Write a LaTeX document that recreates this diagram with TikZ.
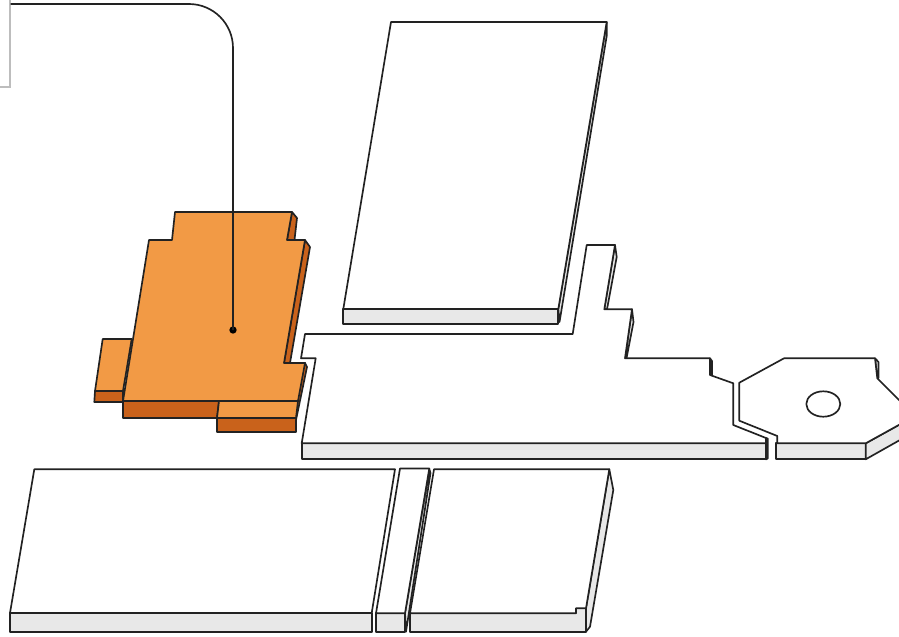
\documentclass[tikz,border=0pt]{standalone}
\usepackage{tikz}
\definecolor{plategray}{HTML}{E8E8E8}
\definecolor{padorange}{HTML}{F29A45}
\definecolor{paddark}{HTML}{C9621B}
\definecolor{edgeblack}{HTML}{222222}
\definecolor{calloutgray}{HTML}{BDBDBD}

\begin{document}
\begin{tikzpicture}[
    x=0.75pt, y=-0.75pt,
    plate/.style={draw=edgeblack, line width=1.25pt, line join=round, fill=white},
    rim/.style={plate, fill=plategray},
    pad/.style={plate, fill=padorange},
    padside/.style={plate, fill=paddark},
    callout/.style={draw=calloutgray, line width=1.0pt, fill=white, minimum width=140pt, minimum height=124.5pt},
    leader/.style={draw=edgeblack, line width=1.25pt, rounded corners=33pt},
    anchordot/.style={circle, fill=black, inner sep=0pt, minimum size=5.5pt}
  ]
    \useasboundingbox (0,0) rectangle (899,636);
    \clip (0,0) rectangle (899,636);

    % upper plate
    \draw[rim]   (606.7,22) -- (606.7,36) -- (559.5,322) -- (558.3,309) -- cycle;
    \draw[rim]   (343.3,309) -- (558.3,309) -- (558.3,324) -- (343.3,324) -- cycle;
    \draw[plate] (391,22) -- (606.7,22) -- (558.3,309) -- (343.3,309) -- cycle;

    % long plate
    \draw[rim]   (615,245) -- (616.7,257) -- (607,309.3) -- (604.3,309.3) -- cycle;
    \draw[rim]   (632,309.3) -- (633.5,322) -- (626.5,358.3) -- (625,358.3) -- cycle;
    \draw[rim]   (710,358.3) -- (712,361) -- (712,375) -- (710,375) -- cycle;
    \draw[rim]   (766,438) -- (767.7,438.5) -- (767.7,458.5) -- (766,459.3) -- cycle;
    \draw[rim]   (301.7,443.3) -- (766,443.3) -- (766,459.3) -- (301.7,459.3) -- cycle;
    \draw[plate] (305,334) -- (572.7,334) -- (586.7,245) -- (615,245) -- (604.3,309.3)
      -- (632,309.3) -- (625,358.3) -- (710,358.3) -- (710,375) -- (733.3,383.3)
      -- (733.3,425) -- (766,438) -- (766,443.3) -- (301.7,443.3) -- (315.7,358.3)
      -- (301,358.3) -- cycle;

    % end plate
    \draw[rim]   (875,358.3) -- (878.5,362) -- (878.5,378) -- (877.3,378.3) -- cycle;
    \draw[rim]   (776,443.3) -- (865.7,443.3) -- (865.7,459.3) -- (776,459.3) -- cycle;
    \draw[rim]   (865.7,443.3) -- (915,416) -- (915,431.5) -- (865.7,459.3) -- cycle;
    \draw[plate] (739.3,382.7) -- (784,358.3) -- (875,358.3) -- (877.3,378.3) -- (915,416)
      -- (865.7,443.3) -- (777.3,443.3) -- (777.3,436) -- (739.3,420.7) -- cycle;
    \draw[plate] (823.3,404) ellipse [x radius=17, y radius=12.7];

    % lower plates
    \draw[rim]   (10,613) -- (371.7,613) -- (371.7,631.7) -- (10,631.7) -- cycle;
    \draw[plate] (34.3,469.3) -- (395,469.3) -- (371.7,613) -- (10,613) -- cycle;

    \draw[rim]   (429.3,469) -- (430.5,473) -- (406,631.7) -- (405,613.3) -- cycle;
    \draw[rim]   (376,613.3) -- (405,613.3) -- (405,631.7) -- (376,631.7) -- cycle;
    \draw[plate] (400,468.5) -- (429.3,468.5) -- (405,613.3) -- (376,613.3) -- cycle;

    \draw[rim]   (609.3,469.3) -- (613.3,490) -- (590,626.7) -- (586,631.7) -- (586,608.3) -- cycle;
    \draw[rim]   (410,613.3) -- (576,613.3) -- (576,608.3) -- (586,608.3) -- (586,631.7) -- (410,631.7) -- cycle;
    \draw[plate] (434,469.3) -- (609.3,469.3) -- (586,608.3) -- (576,608.3) -- (576,613.3) -- (410,613.3) -- cycle;

    % orange part
    \draw[padside] (292,212) -- (297,218) -- (294.5,240) -- (287,240) -- cycle;
    \draw[padside] (305,240) -- (310,247) -- (290,363) -- (284,363) -- cycle;
    \draw[padside] (95,391) -- (123,391) -- (123,402) -- (94.3,402) -- cycle;
    \draw[pad]     (102.7,339) -- (131.7,339) -- (123,391) -- (95,391) -- cycle;
    \draw[padside] (305,363) -- (307,367) -- (296,420) -- (296,432) -- (217,432) -- (217,418) -- cycle;
    \draw[padside] (123,401) -- (219,401) -- (217,418) -- (123,418) -- cycle;
    \draw[pad]     (219,401) -- (298,401) -- (296,418) -- (217,418) -- cycle;
    \draw[pad]     (175,212) -- (292,212) -- (287,240) -- (305,240) -- (284,363) -- (305,363)
      -- (298,401) -- (123,401) -- (149,240) -- (172,240) -- cycle;

    \node[callout] (callout) at (-83.3,4) {};
    \node[anchordot] (pinhole) at (233,330) {};
    \draw[leader] (callout.east) -| (pinhole.center);
  \end{tikzpicture}
\end{document}
